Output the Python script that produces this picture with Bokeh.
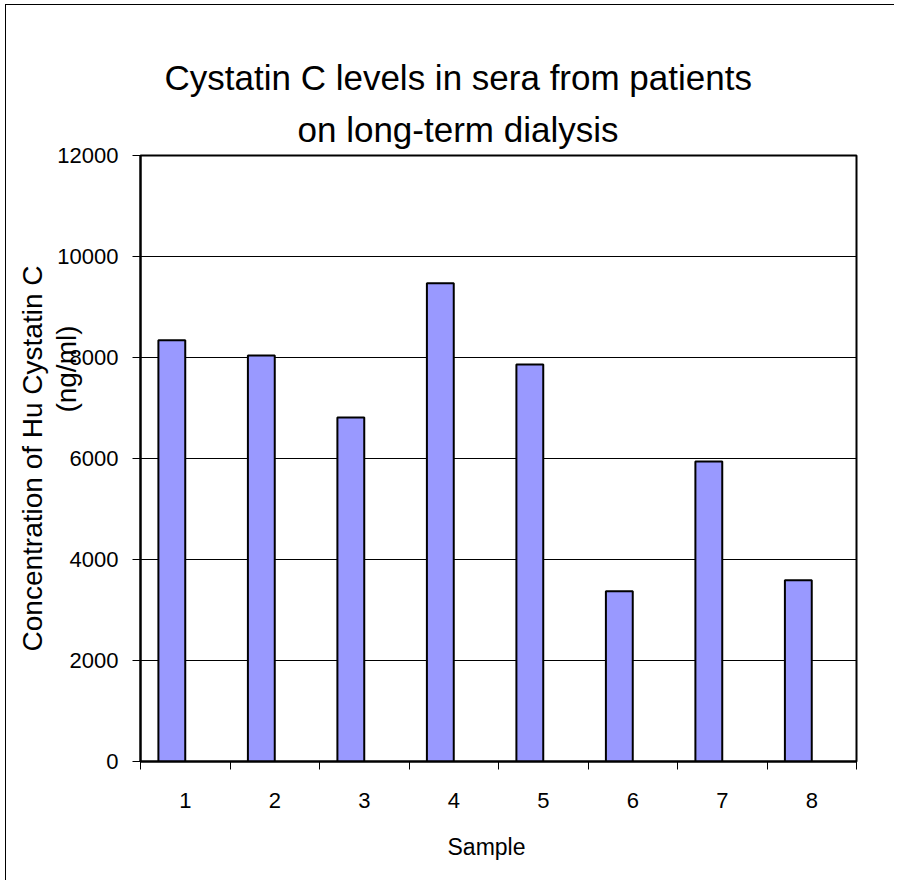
from bokeh.plotting import figure
from bokeh.models import FixedTicker, Range1d, ColumnDataSource, Title
from bokeh.transform import dodge
from bokeh.embed import file_html
from bokeh.resources import INLINE

# ---- data ----
samples = [1, 2, 3, 4, 5, 6, 7, 8]
concentration = [8340, 8040, 6810, 9470, 7860, 3370, 5940, 3590]
y_ticks = [0, 2000, 4000, 6000, 8000, 10000, 12000]
title_lines = ["Cystatin C levels in sera from patients", "on long-term dialysis"]
y_label_lines = ["Concentration of Hu Cystatin C", "(ng/ml)"]
x_label = "Sample"

FONT = "Liberation Sans"

source = ColumnDataSource(dict(x=samples, y=concentration))

p = figure(
    frame_width=716, frame_height=606,
    min_border_left=134, min_border_right=38,
    min_border_top=150, min_border_bottom=110,
    x_range=Range1d(samples[0] - 0.5, samples[-1] + 0.5),
    y_range=Range1d(y_ticks[0], y_ticks[-1]),
    output_backend="svg", toolbar_location=None,
    background_fill_color="white", border_fill_color="white",
)
p.styles = {"margin-left": "5px", "margin-top": "4px",
            "border-top": "1px solid #000", "border-left": "1px solid #000"}

p.vbar(x=dodge("x", -0.15, range=p.x_range), top="y", width=0.3, source=source,
       fill_color="#9999FF", line_color="black", line_width=2)

# frame
p.outline_line_color = "black"
p.outline_line_width = 2

# x axis
p.xaxis.ticker = FixedTicker(ticks=samples,
                             minor_ticks=[s - 0.5 for s in samples] + [samples[-1] + 0.5])
p.xaxis.major_tick_line_color = None
p.xaxis.major_tick_out = 0
p.xaxis.major_tick_in = 0
p.xaxis.minor_tick_line_color = "black"
p.xaxis.minor_tick_out = 8
p.xaxis.minor_tick_in = 0
p.xaxis.major_label_standoff = 23

# y axis
p.yaxis.ticker = FixedTicker(ticks=y_ticks)
p.yaxis.minor_tick_line_color = None
p.yaxis.major_tick_out = 8
p.yaxis.major_tick_in = 0
p.yaxis.major_label_standoff = 14

for ax in (p.xaxis, p.yaxis):
    ax.axis_line_color = "black"
    ax.axis_line_width = 2
    ax.major_label_text_font = FONT
    ax.major_label_text_font_size = "22px"
    ax.major_label_text_color = "black"
p.yaxis.major_tick_line_color = "black"

# grid
p.xgrid.visible = False
p.ygrid.ticker = FixedTicker(ticks=y_ticks)
p.ygrid.grid_line_color = "black"
p.ygrid.grid_line_width = 1

# x-axis caption
p.add_layout(Title(text=x_label, align="left", offset=307, standoff=42,
                   text_font=FONT, text_font_size="23px", text_font_style="normal",
                   text_color="black"), "below")

# y-axis caption as two rotated titles on the left (first added sits closest to the axis)
p.add_layout(Title(text=y_label_lines[1], align="right", offset=170, standoff=-55,
                   text_font=FONT, text_font_size="28px", text_font_style="normal",
                   text_color="black"), "left")
p.add_layout(Title(text=y_label_lines[0], align="center", standoff=14,
                   text_font=FONT, text_font_size="28px", text_font_style="normal",
                   text_color="black"), "left")

# two-line chart title (first added sits closest to the frame)
p.add_layout(Title(text=title_lines[1], align="left", offset=157, standoff=14,
                   text_font=FONT, text_font_size="35px", text_font_style="normal",
                   text_color="black"), "above")
p.add_layout(Title(text=title_lines[0], align="left", offset=24, standoff=8,
                   text_font=FONT, text_font_size="35px", text_font_style="normal",
                   text_color="black"), "above")

open("out.html", "w").write(file_html(p, INLINE))
